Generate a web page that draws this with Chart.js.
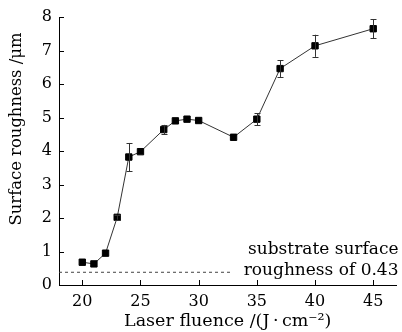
<!DOCTYPE html>
<html>
<head>
<meta charset="utf-8">
<script src="https://cdn.jsdelivr.net/npm/chart.js@4.4.1/dist/chart.umd.min.js"></script>
<style>
    html, body { margin: 0; padding: 0; background: #fff; }
    #wrap { width: 402px; height: 332px; }
</style>
</head>
<body>
<div id="wrap"><canvas id="roughChart" width="402" height="332"></canvas></div>
<script>
// data
const fluence = [20, 21, 22, 23, 24, 25, 27, 28, 29, 30, 33, 35, 37, 40, 45];
const roughness = [0.68, 0.63, 0.95, 2.02, 3.82, 3.98, 4.64, 4.90, 4.95, 4.91, 4.41, 4.95, 6.46, 7.14, 7.65];
const roughnessErr = [0, 0, 0, 0.07, 0.42, 0, 0.14, 0, 0, 0, 0, 0.18, 0.25, 0.33, 0.29];

const substrateX = [18, 32.8];
const substrateY = [0.38, 0.38];

const xTicks = [20, 25, 30, 35, 40, 45];
const yTicks = [0, 1, 2, 3, 4, 5, 6, 7, 8];

const xTitle = 'Laser fluence /(J\u2009\u00b7\u2009cm\u207b\u00b2)';
const yTitle = 'Surface roughness /\u03bcm';
const noteLines = ['substrate surface', 'roughness of 0.43'];

const FONT = '"DejaVu Serif", "Liberation Serif", serif';

document.addEventListener('DOMContentLoaded', () => {

    // error bars, drawn through the scales
    const errorBars = {
        id: 'errorBars',
        afterDatasetsDraw(chart) {
            const { ctx, scales } = chart;
            ctx.save();
            ctx.strokeStyle = '#333';
            ctx.lineWidth = 1;
            fluence.forEach((f, i) => {
                const e = roughnessErr[i];
                if (!e) return;
                const px = Math.round(scales.x.getPixelForValue(f)) + 0.5;
                const top = scales.y.getPixelForValue(roughness[i] + e);
                const bot = scales.y.getPixelForValue(roughness[i] - e);
                ctx.beginPath();
                ctx.moveTo(px, top); ctx.lineTo(px, bot);
                ctx.moveTo(px - 3, Math.round(top) + 0.5); ctx.lineTo(px + 3, Math.round(top) + 0.5);
                ctx.moveTo(px - 3, Math.round(bot) + 0.5); ctx.lineTo(px + 3, Math.round(bot) + 0.5);
                ctx.stroke();
            });
            ctx.restore();
        }
    };

    // ticks point into the plot, plus the free texts
    const decorations = {
        id: 'decorations',
        afterDraw(chart) {
            const { ctx, chartArea, scales } = chart;
            ctx.save();
            ctx.strokeStyle = '#000';
            ctx.lineWidth = 1;
            ctx.beginPath();
            xTicks.forEach(v => {
                const px = Math.round(scales.x.getPixelForValue(v)) + 0.5;
                ctx.moveTo(px, chartArea.bottom);
                ctx.lineTo(px, chartArea.bottom - 5);
            });
            yTicks.forEach(v => {
                const py = Math.round(scales.y.getPixelForValue(v)) + 0.5;
                ctx.moveTo(chartArea.left, py);
                ctx.lineTo(chartArea.left + 5, py);
            });
            ctx.stroke();

            ctx.fillStyle = '#000';
            ctx.font = '17px ' + FONT;
            ctx.textAlign = 'right';
            ctx.textBaseline = 'alphabetic';
            ctx.fillText(noteLines[0], chartArea.right + 2, 254);
            ctx.fillText(noteLines[1], chartArea.right + 2, 275);

            ctx.font = '16.4px ' + FONT;
            ctx.translate(17, 129);
            ctx.rotate(-Math.PI / 2);
            ctx.textAlign = 'center';
            ctx.textBaseline = 'middle';
            ctx.fillText(yTitle, 0, 0);
            ctx.restore();
        }
    };

    const ctx = document.getElementById('roughChart').getContext('2d');
    new Chart(ctx, {
        type: 'line',
        data: {
            datasets: [
                {
                    label: 'Surface roughness',
                    data: fluence.map((f, i) => ({ x: f, y: roughness[i] })),
                    borderColor: '#333',
                    borderWidth: 1,
                    pointStyle: 'rect',
                    pointRadius: 4.5,
                    pointBackgroundColor: '#000',
                    pointBorderColor: '#000',
                    pointBorderWidth: 1,
                    tension: 0
                },
                {
                    label: 'Substrate',
                    data: substrateX.map((f, i) => ({ x: f, y: substrateY[i] })),
                    borderColor: '#444',
                    borderWidth: 1,
                    borderDash: [3, 3],
                    pointRadius: 0
                }
            ]
        },
        options: {
            responsive: false,
            animation: false,
            devicePixelRatio: 1,
            layout: { padding: { top: 17, right: 4, left: 0, bottom: 0 } },
            plugins: {
                legend: { display: false },
                tooltip: { enabled: false }
            },
            scales: {
                x: {
                    type: 'linear',
                    min: 18,
                    max: 47,
                    afterBuildTicks: (scale) => { scale.ticks = xTicks.map(v => ({ value: v })); },
                    afterFit: (scale) => { scale.height = 47; },
                    grid: { drawOnChartArea: false, drawTicks: false },
                    border: { display: true, color: '#000', width: 1 },
                    ticks: { color: '#000', padding: 7, font: { family: FONT, size: 16 } },
                    title: {
                        display: true,
                        text: xTitle,
                        color: '#000',
                        padding: 0,
                        font: { family: FONT, size: 17.5 }
                    }
                },
                y: {
                    type: 'linear',
                    min: 0,
                    max: 8,
                    afterBuildTicks: (scale) => { scale.ticks = yTicks.map(v => ({ value: v })); },
                    afterFit: (scale) => { scale.width = 59; },
                    grid: { drawOnChartArea: false, drawTicks: false },
                    border: { display: true, color: '#000', width: 1 },
                    ticks: { color: '#000', padding: 7, font: { family: FONT, size: 16 } }
                }
            }
        },
        plugins: [errorBars, decorations]
    });
});
</script>
</body>
</html>
